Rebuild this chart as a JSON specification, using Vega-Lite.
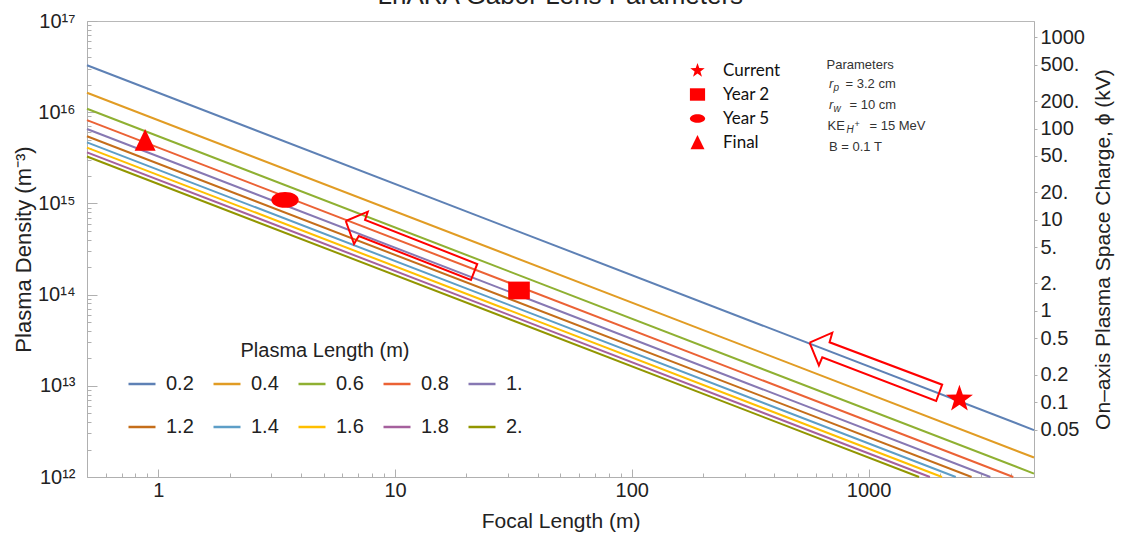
{
  "$schema": "https://vega.github.io/schema/vega-lite/v6.json",
  "width": 947,
  "height": 456,
  "autosize": {"type": "none"},
  "padding": {"left": 87, "top": 21, "right": 90, "bottom": 59},
  "background": "white",
  "config": {
    "view": {"stroke": "#b8b8b8", "strokeWidth": 1},
    "axis": {"domainColor": "#b0b0b0", "tickColor": "#b0b0b0", "labelFont": "Liberation Sans", "titleFont": "Liberation Sans", "labelFontSize": 20, "titleFontSize": 21, "labelColor": "#222222", "titleColor": "#222222", "titleFontWeight": "normal", "grid": false, "labelOverlap": false, "labelBound": false, "labelFlush": false},
    "legend": {"padding": 0, "labelFont": "Liberation Sans", "titleFont": "Liberation Sans", "labelColor": "#222222", "titleColor": "#222222", "titleFontWeight": "normal"},
    "text": {"font": "Liberation Sans"}
  },
  "datasets": {
    "lines": [
      {"L": "0.2", "f": 0.5, "n": 3.27e16}, {"L": "0.2", "f": 5000, "n": 3.27e12},
      {"L": "0.4", "f": 0.5, "n": 1.635e16}, {"L": "0.4", "f": 5000, "n": 1.635e12},
      {"L": "0.6", "f": 0.5, "n": 1.09e16}, {"L": "0.6", "f": 5000, "n": 1.09e12},
      {"L": "0.8", "f": 0.5, "n": 8.18e15}, {"L": "0.8", "f": 4088, "n": 1e12},
      {"L": "1.", "f": 0.5, "n": 6.54e15}, {"L": "1.", "f": 3270, "n": 1e12},
      {"L": "1.2", "f": 0.5, "n": 5.45e15}, {"L": "1.2", "f": 2725, "n": 1e12},
      {"L": "1.4", "f": 0.5, "n": 4.67e15}, {"L": "1.4", "f": 2336, "n": 1e12},
      {"L": "1.6", "f": 0.5, "n": 4.09e15}, {"L": "1.6", "f": 2044, "n": 1e12},
      {"L": "1.8", "f": 0.5, "n": 3.63e15}, {"L": "1.8", "f": 1817, "n": 1e12},
      {"L": "2.", "f": 0.5, "n": 3.27e15}, {"L": "2.", "f": 1635, "n": 1e12}
    ],
    "markers": [
      {"marker": "Current", "kind": "star", "f": 2421, "n": 7.16e12},
      {"marker": "Year 2", "kind": "square", "f": 33.4, "n": 1.11e14},
      {"marker": "Year 5", "kind": "ellipse", "f": 3.43, "n": 1.09e15},
      {"marker": "Final", "kind": "triangle", "f": 0.88, "n": 4.9e15}
    ],
    "arrows": [
      {"a": 1, "i": 0, "f": 6.194, "n": 6.41e14},
      {"a": 1, "i": 1, "f": 7.672, "n": 8.11e14},
      {"a": 1, "i": 2, "f": 7.47, "n": 6.58e14},
      {"a": 1, "i": 3, "f": 22.25, "n": 2.166e14},
      {"a": 1, "i": 4, "f": 20.93, "n": 1.445e14},
      {"a": 1, "i": 5, "f": 7.028, "n": 4.39e14},
      {"a": 1, "i": 6, "f": 6.714, "n": 3.59e14},
      {"a": 1, "i": 7, "f": 6.194, "n": 6.41e14},
      {"a": 2, "i": 0, "f": 563.7, "n": 2.969e13},
      {"a": 2, "i": 1, "f": 702.9, "n": 3.821e13},
      {"a": 2, "i": 2, "f": 684.6, "n": 2.999e13},
      {"a": 2, "i": 3, "f": 2047, "n": 1.028e13},
      {"a": 2, "i": 4, "f": 1931, "n": 6.81e12},
      {"a": 2, "i": 5, "f": 637.7, "n": 2.053e13},
      {"a": 2, "i": 6, "f": 617.1, "n": 1.678e13},
      {"a": 2, "i": 7, "f": 563.7, "n": 2.969e13}
    ],
    "heading": [
      {"t": "LhARA Gabor Lens Parameters", "f": 49.9, "n": 1.536e17}
    ],
    "plain": [
      {"t": "Parameters", "f": 664.9, "n": 3.293e16},
      {"t": "= 3.2 cm", "f": 799.8, "n": 2.038e16},
      {"t": "= 10 cm", "f": 831.3, "n": 1.199e16},
      {"t": "KE", "f": 671.4, "n": 7.058e15},
      {"t": "= 15 MeV", "f": 1009.7, "n": 7.058e15},
      {"t": "B = 0.1 T", "f": 681.2, "n": 4.123e15}
    ],
    "ital": [
      {"t": "r", "f": 681.2, "n": 2.038e16},
      {"t": "r", "f": 681.2, "n": 1.199e16}
    ],
    "subs": [
      {"t": "p", "f": 712, "n": 1.842e16},
      {"t": "w", "f": 712, "n": 1.084e16},
      {"t": "H", "f": 807.6, "n": 6.378e15}
    ],
    "sups": [
      {"t": "+", "f": 873, "n": 7.424e15}
    ],
    "phi": [{"phi": 0.0151}, {"phi": 1510}]
  },
  "layer": [
    {
      "layer": [
        {
          "data": {"name": "lines"},
          "mark": {"type": "line", "strokeWidth": 2},
          "encoding": {
            "x": {"field": "f", "type": "quantitative", "scale": {"type": "log", "domain": [0.5, 5000], "nice": false},
              "axis": {"title": "Focal Length (m)", "values": [0.6, 0.7, 0.8, 0.9, 1, 2, 3, 4, 5, 6, 7, 8, 9, 10, 20, 30, 40, 50, 60, 70, 80, 90, 100, 200, 300, 400, 500, 600, 700, 800, 900, 1000, 2000, 3000, 4000],
                "labelExpr": "indexof([1, 10, 100, 1000], datum.value) >= 0 ? format(datum.value, 'd') : ''",
                "tickSize": {"condition": {"test": "indexof([1, 10, 100, 1000], datum.value) >= 0", "value": -8}, "value": -4},
                "labelPadding": 11, "titlePadding": 6}},
            "y": {"field": "n", "type": "quantitative", "scale": {"type": "log", "domain": [1e12, 1e17], "nice": false},
              "axis": {"title": "Plasma Density (m⁻³)", "titleFontSize": 22, "values": [1e12, 2e12, 3e12, 4e12, 5e12, 6e12, 7e12, 8e12, 9e12, 1e13, 2e13, 3e13, 4e13, 5e13, 6e13, 7e13, 8e13, 9e13, 1e14, 2e14, 3e14, 4e14, 5e14, 6e14, 7e14, 8e14, 9e14, 1e15, 2e15, 3e15, 4e15, 5e15, 6e15, 7e15, 8e15, 9e15, 1e16, 2e16, 3e16, 4e16, 5e16, 6e16, 7e16, 8e16, 9e16, 1e17],
                "labelExpr": "indexof([1e12, 1e13, 1e14, 1e15, 1e16, 1e17], datum.value) >= 0 ? '10' + ['¹²', '¹³', '¹⁴', '¹⁵', '¹⁶', '¹⁷'][indexof([1e12, 1e13, 1e14, 1e15, 1e16, 1e17], datum.value)] : ''",
                "tickSize": {"condition": {"test": "indexof([1e12, 1e13, 1e14, 1e15, 1e16, 1e17], datum.value) >= 0", "value": -10}, "value": -4},
                "labelPadding": 22, "titlePadding": 2}},
            "color": {"field": "L", "type": "nominal",
              "scale": {"domain": ["0.2", "0.4", "0.6", "0.8", "1.", "1.2", "1.4", "1.6", "1.8", "2."], "range": ["#5E81B5", "#E19C24", "#8FB032", "#EB6235", "#8778B3", "#C56E1A", "#5D9EC7", "#FFBF00", "#A5609D", "#929600"]},
              "legend": {"title": "Plasma Length (m)", "orient": "none", "legendX": 40, "legendY": 320, "direction": "horizontal", "columns": 5, "symbolType": "stroke", "symbolSize": 729, "symbolStrokeWidth": 2.5, "labelFontSize": 20, "titleFontSize": 20, "titleAnchor": "middle", "titlePadding": 8, "columnPadding": 14, "rowPadding": 18, "labelOffset": 9}}
          }
        },
        {
          "data": {"name": "arrows"},
          "mark": {"type": "line", "stroke": "#ff0000", "strokeWidth": 2, "strokeJoin": "miter"},
          "encoding": {
            "x": {"field": "f", "type": "quantitative", "scale": {"type": "log", "domain": [0.5, 5000], "nice": false}},
            "y": {"field": "n", "type": "quantitative", "scale": {"type": "log", "domain": [1e12, 1e17], "nice": false}},
            "detail": {"field": "a", "type": "nominal"},
            "order": {"field": "i", "type": "quantitative"}
          }
        },
        {
          "data": {"name": "markers"},
          "mark": {"type": "point", "filled": true, "opacity": 1, "color": "#ff0000"},
          "encoding": {
            "x": {"field": "f", "type": "quantitative", "scale": {"type": "log", "domain": [0.5, 5000], "nice": false}},
            "y": {"field": "n", "type": "quantitative", "scale": {"type": "log", "domain": [1e12, 1e17], "nice": false}},
            "shape": {"field": "marker", "type": "nominal",
              "scale": {"domain": ["Current", "Year 2", "Year 5", "Final"], "range": ["M0,-1L0.235,-0.324L0.951,-0.309L0.38,0.124L0.588,0.809L0,0.4L-0.588,0.809L-0.38,0.124L-0.951,-0.309L-0.235,-0.324Z", "M-1,-0.82L1,-0.82L1,0.82L-1,0.82Z", "M-1,0A1,0.575,0,1,1,1,0A1,0.575,0,1,1,-1,0Z", "M0,-1L0.92,0.9L-0.92,0.9Z"]},
              "legend": {"title": null, "orient": "none", "legendX": 602, "legendY": 41, "symbolSize": 230, "symbolFillColor": "#ff0000", "symbolStrokeColor": "#ff0000", "symbolStrokeWidth": 0, "labelFont": "Lato", "labelFontSize": 17, "labelColor": "#111111", "labelOffset": 17, "rowPadding": 6}},
            "size": {"field": "kind", "type": "nominal", "scale": {"type": "ordinal", "domain": ["star", "square", "ellipse", "triangle"], "range": [807, 467, 750, 520]}, "legend": null}
          }
        },
        {
          "data": {"name": "heading"},
          "mark": {"type": "text", "align": "center", "baseline": "alphabetic", "fontSize": 26, "color": "#222222"},
          "encoding": {
            "x": {"field": "f", "type": "quantitative", "scale": {"type": "log", "domain": [0.5, 5000], "nice": false}},
            "y": {"field": "n", "type": "quantitative", "scale": {"type": "log", "domain": [1e12, 1e17], "nice": false}},
            "text": {"field": "t"}
          }
        },
        {
          "data": {"name": "plain"},
          "mark": {"type": "text", "align": "left", "baseline": "middle", "fontSize": 13, "color": "#333333"},
          "encoding": {
            "x": {"field": "f", "type": "quantitative", "scale": {"type": "log", "domain": [0.5, 5000], "nice": false}},
            "y": {"field": "n", "type": "quantitative", "scale": {"type": "log", "domain": [1e12, 1e17], "nice": false}},
            "text": {"field": "t"}
          }
        },
        {
          "data": {"name": "ital"},
          "mark": {"type": "text", "align": "left", "baseline": "middle", "fontSize": 13, "fontStyle": "italic", "color": "#333333"},
          "encoding": {
            "x": {"field": "f", "type": "quantitative", "scale": {"type": "log", "domain": [0.5, 5000], "nice": false}},
            "y": {"field": "n", "type": "quantitative", "scale": {"type": "log", "domain": [1e12, 1e17], "nice": false}},
            "text": {"field": "t"}
          }
        },
        {
          "data": {"name": "subs"},
          "mark": {"type": "text", "align": "left", "baseline": "middle", "fontSize": 10, "fontStyle": "italic", "color": "#333333"},
          "encoding": {
            "x": {"field": "f", "type": "quantitative", "scale": {"type": "log", "domain": [0.5, 5000], "nice": false}},
            "y": {"field": "n", "type": "quantitative", "scale": {"type": "log", "domain": [1e12, 1e17], "nice": false}},
            "text": {"field": "t"}
          }
        },
        {
          "data": {"name": "sups"},
          "mark": {"type": "text", "align": "left", "baseline": "middle", "fontSize": 9, "color": "#333333"},
          "encoding": {
            "x": {"field": "f", "type": "quantitative", "scale": {"type": "log", "domain": [0.5, 5000], "nice": false}},
            "y": {"field": "n", "type": "quantitative", "scale": {"type": "log", "domain": [1e12, 1e17], "nice": false}},
            "text": {"field": "t"}
          }
        }
      ]
    },
    {
      "data": {"name": "phi"},
      "mark": {"type": "point", "opacity": 0},
      "encoding": {
        "y": {"field": "phi", "type": "quantitative", "scale": {"type": "log", "domain": [0.0151, 1510], "nice": false},
          "axis": {"orient": "right", "title": "On–axis Plasma Space Charge, ϕ (kV)", "values": [0.05, 0.1, 0.2, 0.5, 1, 2, 5, 10, 20, 50, 100, 200, 500, 1000],
            "labelExpr": "indexof([2, 5, 20, 50, 200, 500], datum.value) >= 0 ? datum.value + '.' : '' + datum.value",
            "tickSize": 3, "labelPadding": 3, "titleAngle": 270, "titleBaseline": "top", "titlePadding": 8}}
      }
    }
  ],
  "resolve": {"scale": {"y": "independent"}}
}
